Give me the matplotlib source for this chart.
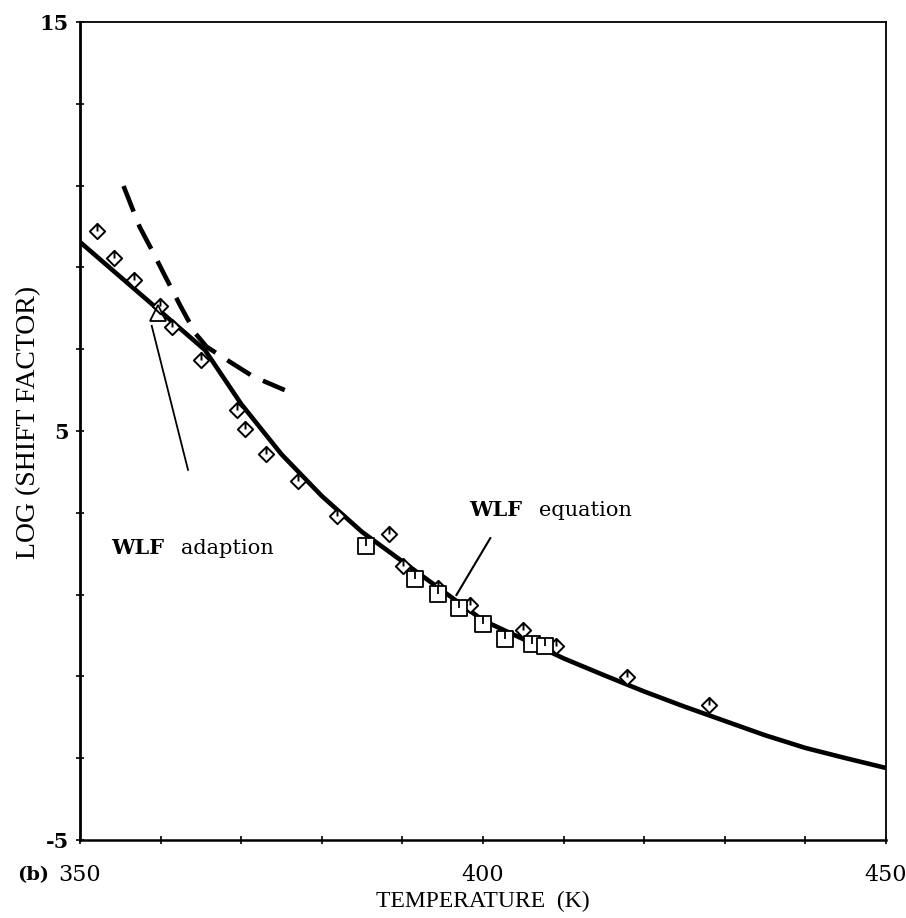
import matplotlib
matplotlib.use("Agg")
import matplotlib.pyplot as plt
from matplotlib.path import Path
from matplotlib.ticker import FixedLocator

# ---- data ----
diamond_T = [352.1, 354.2, 356.7, 359.9, 361.4, 365.0, 369.5, 370.5, 373.1, 377.0,
             381.9, 388.3, 390.1, 394.4, 398.4, 405.0, 409.1, 417.9, 428.0]
diamond_Y = [9.89, 9.23, 8.69, 8.06, 7.54, 6.74, 5.51, 5.05, 4.44, 3.78,
             2.92, 2.48, 1.70, 1.16, 0.75, 0.13, -0.26, -1.01, -1.70]

square_T = [385.5, 391.6, 394.4, 397.0, 400.0, 402.7, 406.1, 407.7]
square_Y = [2.19, 1.38, 1.01, 0.68, 0.28, -0.08, -0.21, -0.26]

triangle_T = [359.7]
triangle_Y = [7.89]

wlf_T = [350, 355, 360, 365.5, 370, 375, 380, 385, 390, 395, 400, 405, 410,
         415, 420, 425, 430, 435, 440, 445, 450]
wlf_Y = [9.62, 8.77, 7.92, 6.98, 5.66, 4.43, 3.41, 2.53, 1.81, 1.09, 0.37, -0.09, -0.56,
         -0.97, -1.37, -1.74, -2.09, -2.44, -2.75, -3.00, -3.24]

adapt_T = [355.4, 357.4, 358.9, 360.6, 362.4, 364.3, 365.7, 368.6, 371.5, 375.4]
adapt_Y = [10.99, 9.99, 9.43, 8.77, 8.08, 7.39, 7.06, 6.69, 6.33, 6.00]

x_ticks = [350, 400, 450]
y_ticks = [-5, 5, 15]

# ---- marker shapes (outline plus small internal tick) ----
dia_path = Path([(0, 1), (1, 0), (0, -1), (-1, 0), (0, 1), (0, 1), (0, 0)],
                [Path.MOVETO, Path.LINETO, Path.LINETO, Path.LINETO, Path.CLOSEPOLY,
                 Path.MOVETO, Path.LINETO])
sq_path = Path([(-1, -1), (1, -1), (1, 1), (-1, 1), (-1, -1), (0, 1), (0, 0)],
               [Path.MOVETO, Path.LINETO, Path.LINETO, Path.LINETO, Path.CLOSEPOLY,
                Path.MOVETO, Path.LINETO])

serif = ["Liberation Serif", "DejaVu Serif"]
wide = ["DejaVu Serif"]

fig = plt.figure(figsize=(9.06, 9.18), dpi=100)
ax = fig.add_axes([0.0883, 0.085, 0.8897, 0.891])

ax.plot(wlf_T, wlf_Y, color="black", lw=3.3, solid_capstyle="butt",
        solid_joinstyle="round", zorder=3)
ax.plot(adapt_T, adapt_Y, color="black", lw=3.3, ls=(0, (6, 3)), zorder=3)

ax.plot(diamond_T, diamond_Y, ls="none", marker=dia_path, markersize=11,
        markerfacecolor="white", markeredgecolor="black", markeredgewidth=1.4, zorder=4)
ax.plot(square_T, square_Y, ls="none", marker=sq_path, markersize=12,
        markerfacecolor="white", markeredgecolor="black", markeredgewidth=1.3, zorder=4)
ax.plot(triangle_T, triangle_Y, ls="none", marker="^", markersize=11,
        markerfacecolor="none", markeredgecolor="black", markeredgewidth=1.3, zorder=4)

# pointer lines
ax.plot([358.9, 363.4], [7.57, 4.05], color="black", lw=1.3, zorder=2)
ax.plot([400.9, 396.7], [2.38, 0.99], color="black", lw=1.5, zorder=2)

t1 = ax.text(353.9, 2.14, "WLF", fontsize=15, fontweight="bold", family=wide,
             va="center", ha="left")
ax.annotate("adaption", xy=(1, 0), xycoords=t1, xytext=(12, 0), textcoords="offset points",
            fontsize=15, family=wide, va="bottom", ha="left")
t2 = ax.text(398.3, 3.07, "WLF", fontsize=15, fontweight="bold", family=wide,
             va="center", ha="left")
ax.annotate("equation", xy=(1, 0), xycoords=t2, xytext=(12, 0), textcoords="offset points",
            fontsize=15, family=wide, va="bottom", ha="left")

ax.set_xlim(350, 450)
ax.set_ylim(-5, 15)
ax.set_xticks(x_ticks)
ax.set_yticks(y_ticks)
ax.set_xticklabels([str(v) for v in x_ticks], family=wide, fontsize=16)
ax.set_yticklabels([str(v) for v in y_ticks], family=wide, fontsize=15, fontweight="bold")
ax.xaxis.set_minor_locator(FixedLocator(list(range(360, 450, 10))))
ax.yaxis.set_minor_locator(FixedLocator([-3, -1, 1, 3, 7, 9, 11, 13]))
ax.tick_params(which="both", direction="inout", length=6, width=1.2)
ax.tick_params(axis="y", which="major", pad=5)
ax.tick_params(axis="x", which="major", pad=14)

for side, sp in ax.spines.items():
    sp.set_color("black")
    sp.set_linewidth(1.3)
ax.spines["left"].set_linewidth(2.0)
ax.spines["bottom"].set_linewidth(1.8)

ax.set_xlabel("TEMPERATURE  (K)", family=serif, fontsize=17, labelpad=4)
ax.set_ylabel("LOG (SHIFT FACTOR)", family=serif, fontsize=20)
ax.yaxis.set_label_coords(-0.048, 0.51)

fig.text(0.019, 0.047, "(b)", family=wide, fontsize=14, fontweight="bold",
         va="center", ha="left")

fig.savefig("out.png", dpi=100, facecolor="white")
